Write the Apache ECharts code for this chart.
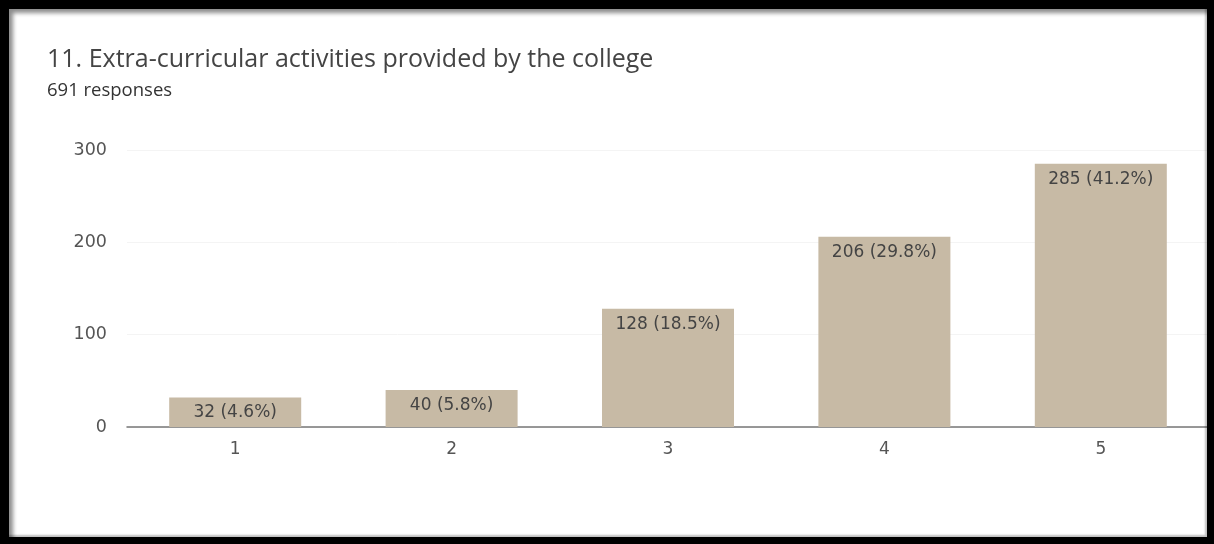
<!DOCTYPE html>
<html><head><meta charset="utf-8">
<script src="https://cdn.jsdelivr.net/npm/echarts@6/dist/echarts.min.js"></script>
<style>
html,body{margin:0;padding:0;background:#fff;}
#wrap{position:relative;width:1214px;height:544px;overflow:hidden;}
#chart{position:absolute;left:0;top:0;width:1214px;height:544px;}
#frame{position:absolute;left:0;top:0;width:1214px;height:544px;box-sizing:border-box;
 border-style:solid;border-color:#000;border-width:9px 7px 7px 9px;
 box-shadow: inset 4px 4px 4px rgba(0,0,0,0.45), inset -2px -2px 2px rgba(0,0,0,0.25);pointer-events:none;}
</style></head>
<body><div id="wrap"><div id="chart"></div><div id="frame"></div></div>
<script>
const categories = ['1','2','3','4','5'];
const counts = [32, 40, 128, 206, 285];
const percents = ['4.6%','5.8%','18.5%','29.8%','41.2%'];
const yTicks = [0, 100, 200, 300];
const titleText = '11. Extra-curricular activities provided by the college';
const subText = '691 responses';

const chart = echarts.init(document.getElementById('chart'));
chart.setOption({
  animation:false,
  title:{text:titleText, subtext:subText, left:47, top:47, padding:0,
    textStyle:{fontFamily:'Open Sans', fontSize:25, fontWeight:'normal', color:'#444'},
    subtextStyle:{fontFamily:'Open Sans', fontSize:18.5, color:'#333'}, itemGap:9},
  grid:{left:127, right:5, top:150, bottom:117},
  xAxis:{type:'category', data:categories,
    axisLine:{lineStyle:{color:'#777', width:1.5}}, axisTick:{show:false},
    axisLabel:{fontFamily:'DejaVu Sans', fontSize:17, color:'#555', margin:14}},
  yAxis:{type:'value', min:0, max:yTicks[yTicks.length-1], interval:100,
    axisLine:{show:false}, axisTick:{show:false},
    splitLine:{lineStyle:{color:'#f4f4f4'}},
    axisLabel:{fontFamily:'DejaVu Sans', fontSize:17.5, color:'#555', margin:20}},
  series:[{type:'bar', data:counts, barWidth:'61%',
    itemStyle:{color:'#c7baa5'},
    label:{show:true, position:'insideTop', distance:7, fontFamily:'DejaVu Sans', fontSize:17, color:'#444',
      formatter:p=>p.value+' ('+percents[p.dataIndex]+')'}}]
});
</script></body></html>
